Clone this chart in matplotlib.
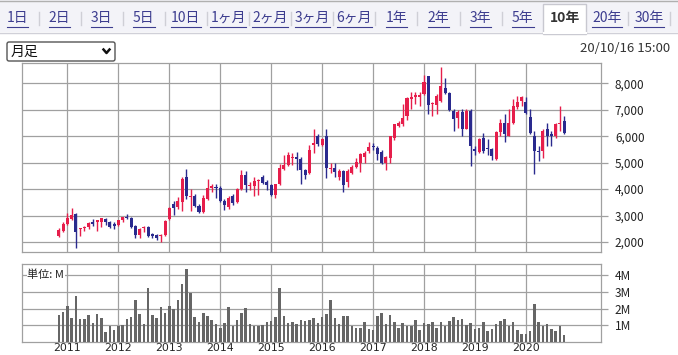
import matplotlib
matplotlib.use("Agg")
import numpy as np
from matplotlib import pyplot as plt
from matplotlib.patches import Rectangle, FancyBboxPatch

plt.rcParams['font.family'] = ['Noto Sans CJK JP', 'DejaVu Sans']

# monthly candles, Nov 2010 .. Oct 2020
opens = [2240, 2418, 2683, 2873, 3063, 2481, 2519, 2570, 2772, 2772,
         2772, 2861, 2747, 2671, 2645, 2823, 2962, 2924, 2620, 2253,
         2544, 2570, 2291, 2266, 2240, 2266, 2873, 3420, 3310, 3506,
         4456, 3700, 3721, 3354, 3126, 3633, 4038, 4076, 4050, 3544,
         3316, 3721, 3506, 4012, 4544, 4101, 4101, 4303, 4456, 4266,
         4139, 3760, 4177, 4772, 4900, 5177, 5215, 5152, 4709, 4600,
         5682, 6025, 5680, 6025, 4750, 4790, 4471, 4700, 4280, 4599,
         4853, 4980, 5210, 5427, 5643, 5554, 5388, 4980, 5172, 5936,
         6382, 6446, 6764, 7400, 7465, 7500, 7592, 8268, 7210, 7172,
         7338, 7809, 7631, 6955, 6700, 6917, 6280, 6955, 5516, 5388,
         5936, 5554, 5516, 5134, 6153, 6484, 6025, 6484, 7121, 7338,
         7274, 6739, 6025, 5427, 5427, 6255, 6064, 6025, 6446, 6573]
highs = [2520, 2747, 3089, 3304, 3089, 2545, 2620, 2747, 2861, 2848,
         2924, 2899, 2797, 2747, 2848, 2962, 3063, 2962, 2645, 2519,
         2595, 2608, 2329, 2291, 2304, 2835, 3342, 3560, 3700, 4456,
         4772, 4010, 3823, 3443, 3760, 4392, 4200, 4177, 4100, 3633,
         3721, 3823, 4038, 4734, 4671, 4266, 4456, 4367, 4519, 4329,
         4177, 4202, 4962, 5278, 5405, 5367, 5405, 5215, 4772, 5680,
         6280, 6064, 5936, 6255, 4980, 4980, 4751, 4726, 4751, 4917,
         5172, 5363, 5427, 5771, 5745, 5618, 5465, 5235, 6025, 6471,
         6573, 7210, 7465, 7656, 7682, 7656, 8319, 8293, 7300, 7592,
         8612, 8191, 7656, 7019, 6994, 7019, 7019, 7045, 5618, 5936,
         6102, 5898, 5554, 6191, 6637, 6828, 7019, 7401, 7529, 7529,
         7465, 7019, 6191, 5618, 6255, 6510, 6191, 6510, 7147, 6764]
lows = [2200, 2392, 2645, 2835, 1785, 2240, 2430, 2481, 2620, 2418,
        2582, 2645, 2519, 2494, 2620, 2747, 2873, 2544, 2164, 2139,
        2392, 2190, 2164, 2063, 2012, 2240, 2835, 3020, 3250, 3190,
        3633, 3190, 3316, 3110, 3110, 3570, 3886, 3670, 3506, 3215,
        3253, 3380, 3468, 3949, 3886, 3949, 3721, 3760, 4177, 3949,
        3721, 3670, 4139, 4734, 4861, 4899, 4709, 4177, 4392, 4560,
        5363, 5618, 5643, 4407, 4600, 4471, 4344, 3898, 4089, 4573,
        4790, 4662, 4980, 5363, 5465, 5083, 4955, 4726, 4980, 5847,
        6357, 6382, 6611, 7019, 7210, 7147, 7554, 6828, 6764, 6828,
        7274, 7592, 6955, 6191, 6318, 6000, 6255, 4879, 5300, 5363,
        5363, 5300, 5083, 5108, 6025, 5770, 6000, 6446, 7019, 7147,
        6828, 6064, 4573, 5045, 5172, 5618, 5618, 5936, 6191, 6064]
closes = [2455, 2696, 2924, 3025, 2392, 2519, 2582, 2721, 2683, 2823,
          2899, 2747, 2570, 2608, 2823, 2937, 2924, 2570, 2266, 2494,
          2570, 2228, 2228, 2139, 2278, 2810, 3304, 3300, 3540, 4392,
          3721, 3720, 3354, 3140, 3670, 4050, 4100, 4038, 3544, 3380,
          3670, 3468, 4012, 4519, 4139, 4151, 4303, 4342, 4228, 4139,
          3760, 4177, 4810, 4900, 5278, 5215, 5152, 4709, 4519, 5465,
          5745, 5720, 5900, 4790, 4790, 4662, 4700, 4153, 4700, 4853,
          5006, 5337, 5363, 5592, 5592, 5337, 4980, 5210, 6000, 6446,
          6510, 6700, 7427, 7465, 7554, 7554, 8064, 7172, 7250, 7529,
          7911, 7631, 6994, 6662, 6917, 6255, 6955, 5618, 5427, 5898,
          5427, 5516, 5261, 6153, 6510, 6064, 6510, 7147, 7274, 7465,
          6892, 6102, 5427, 5388, 6191, 6025, 6000, 6446, 6510, 6127]
# volume, millions of shares
volume = [1.63, 1.81, 2.16, 1.45, 2.76, 1.39, 1.39, 1.63, 1.15, 1.69,
          1.45, 0.62, 0.97, 0.73, 0.93, 1.03, 1.39, 1.51, 2.52, 1.69,
          1.09, 3.23, 1.63, 1.45, 2.10, 1.75, 2.16, 1.98, 2.52, 3.47,
          4.37, 2.94, 1.51, 1.21, 1.75, 1.57, 1.33, 1.09, 0.85, 1.15,
          2.10, 0.93, 1.33, 1.75, 2.04, 1.09, 0.97, 0.97, 1.03, 1.21,
          1.27, 1.51, 3.23, 1.57, 1.15, 1.21, 1.09, 1.33, 1.27, 1.33,
          1.45, 1.15, 1.51, 1.69, 2.52, 1.45, 1.09, 1.57, 1.57, 0.97,
          0.85, 0.85, 1.21, 0.79, 0.73, 1.57, 1.75, 1.09, 1.63, 1.21,
          0.85, 1.15, 0.97, 0.97, 1.33, 0.73, 1.15, 1.09, 1.21, 0.85,
          1.21, 0.97, 1.27, 1.51, 1.33, 1.39, 1.03, 1.15, 0.79, 0.85,
          1.21, 0.67, 0.79, 1.09, 1.27, 1.39, 0.97, 1.21, 0.73, 0.50,
          0.50, 0.67, 2.28, 1.21, 0.97, 1.09, 0.79, 0.67, 0.97, 0.44]
years = ['2011', '2012', '2013', '2014', '2015', '2016', '2017', '2018', '2019', '2020']
price_ticks = [2000, 3000, 4000, 5000, 6000, 7000, 8000]
vol_ticks = [1, 2, 3, 4]
tabs = ['1日', '2日', '3日', '5日', '10日', '1ヶ月', '2ヶ月', '3ヶ月', '6ヶ月',
        '1年', '2年', '3年', '5年', '10年', '20年', '30年']
selected = '10年'

RED = '#e61e4b'
BLUE = '#2a2a8e'
GRID = '#a0a0a0'

W, H = 678, 355
fig = plt.figure(figsize=(W / 100, H / 100), dpi=100)
fig.patch.set_facecolor('white')

# page furniture drawn in pixel coordinates
ui = fig.add_axes([0, 0, 1, 1])
ui.set_xlim(0, W)
ui.set_ylim(H, 0)
ui.axis('off')

ui.add_patch(Rectangle((0, 0), W, 32, facecolor='#f3f3f8', edgecolor='none'))
ui.plot([0, W], [0.5, 0.5], color='#b0b0b0', lw=1)
ui.plot([0, W], [32.5, 32.5], color='#d0d0d8', lw=1)

step = 42.1
x0 = 17.5
sel = tabs.index(selected)
ui.add_patch(Rectangle((x0 + sel * step - 21.5, 4), 43, 29.5, facecolor='white',
                       edgecolor='#c8c8d0', lw=1, zorder=2))
ui.plot([x0 + sel * step - 21, x0 + sel * step + 21], [32.5, 32.5], color='white', lw=1.5, zorder=3)

renderer = fig.canvas.get_renderer()
for k, lab in enumerate(tabs):
    cx = x0 + k * step
    if k == sel:
        ui.text(cx, 18, lab, ha='center', va='center', fontsize=10, color='#333333',
                fontweight='bold', zorder=4)
    else:
        t = ui.text(cx, 18, lab, ha='center', va='center', fontsize=10, color='#3d3d8f', zorder=4)
        bb = t.get_window_extent(renderer=renderer)
        ui.plot([bb.x0, bb.x1], [26.5, 26.5], color='#3d3d8f', lw=0.8, zorder=4)
    if k not in (sel - 1, sel):
        sx = cx + step / 2
        ui.plot([sx, sx], [12, 25], color='#cfcfd6', lw=1)

ui.add_patch(FancyBboxPatch((7, 42), 108, 19, boxstyle='round,pad=0,rounding_size=2',
                            facecolor='white', edgecolor='#555555', lw=1))
ui.text(11, 51.5, '月足', ha='left', va='center', fontsize=10, color='#111111')
ui.plot([103.5, 106.5, 109.5], [49.5, 53, 49.5], color='#111111', lw=1.8)
ui.text(670, 48.5, '20/10/16 15:00', ha='right', va='center', fontsize=9.5, color='#333333')

# price panel
ax = fig.add_axes([22 / W, 1 - 252 / H, 579 / W, 189 / H])
vax = fig.add_axes([22 / W, 1 - 342 / H, 579 / W, 78 / H])

x = np.arange(len(opens))
o = np.array(opens)
c = np.array(closes)
cols = [RED if cc >= oo else BLUE for oo, cc in zip(o, c)]
ax.vlines(x, lows, highs, colors=cols, lw=1, zorder=3)
body = np.maximum(np.abs(c - o), 35)
ax.bar(x, body, bottom=np.minimum(o, c), width=0.72, color=cols, zorder=4, linewidth=0)

vax.bar(x, volume, width=0.6, color='#666666', zorder=3, linewidth=0)

year_pos = [2 + 12 * k for k in range(len(years))]
for a in (ax, vax):
    a.set_xlim(-8.7, 127.7)
    a.set_xticks(year_pos)
    a.grid(True, color=GRID, lw=0.9)
    a.set_axisbelow(True)
    for s in a.spines.values():
        s.set_color(GRID)
        s.set_linewidth(0.9)
    a.yaxis.tick_right()
    a.tick_params(axis='y', length=5, color=GRID, width=0.9, pad=5, labelsize=8.5, labelcolor='#222222')
    a.tick_params(axis='x', length=0)

ax.set_ylim(1622, 8767)
ax.set_yticks(price_ticks)
ax.set_yticklabels([f'{v:,}' for v in price_ticks])
ax.set_xticklabels([])

vax.set_ylim(0, 4.66)
vax.set_yticks(vol_ticks)
vax.set_yticklabels([f'{v}M' for v in vol_ticks])
vax.set_xticklabels(years, family=['DejaVu Sans'])
vax.tick_params(axis='x', pad=0.5, labelsize=7.8, labelcolor='#222222')
vax.text(0.009, 0.93, '単位: M', transform=vax.transAxes, ha='left', va='top', fontsize=8,
         color='#222222', zorder=5, bbox=dict(facecolor='white', edgecolor='none', pad=0.5))

fig.savefig('out.png', dpi=100)
